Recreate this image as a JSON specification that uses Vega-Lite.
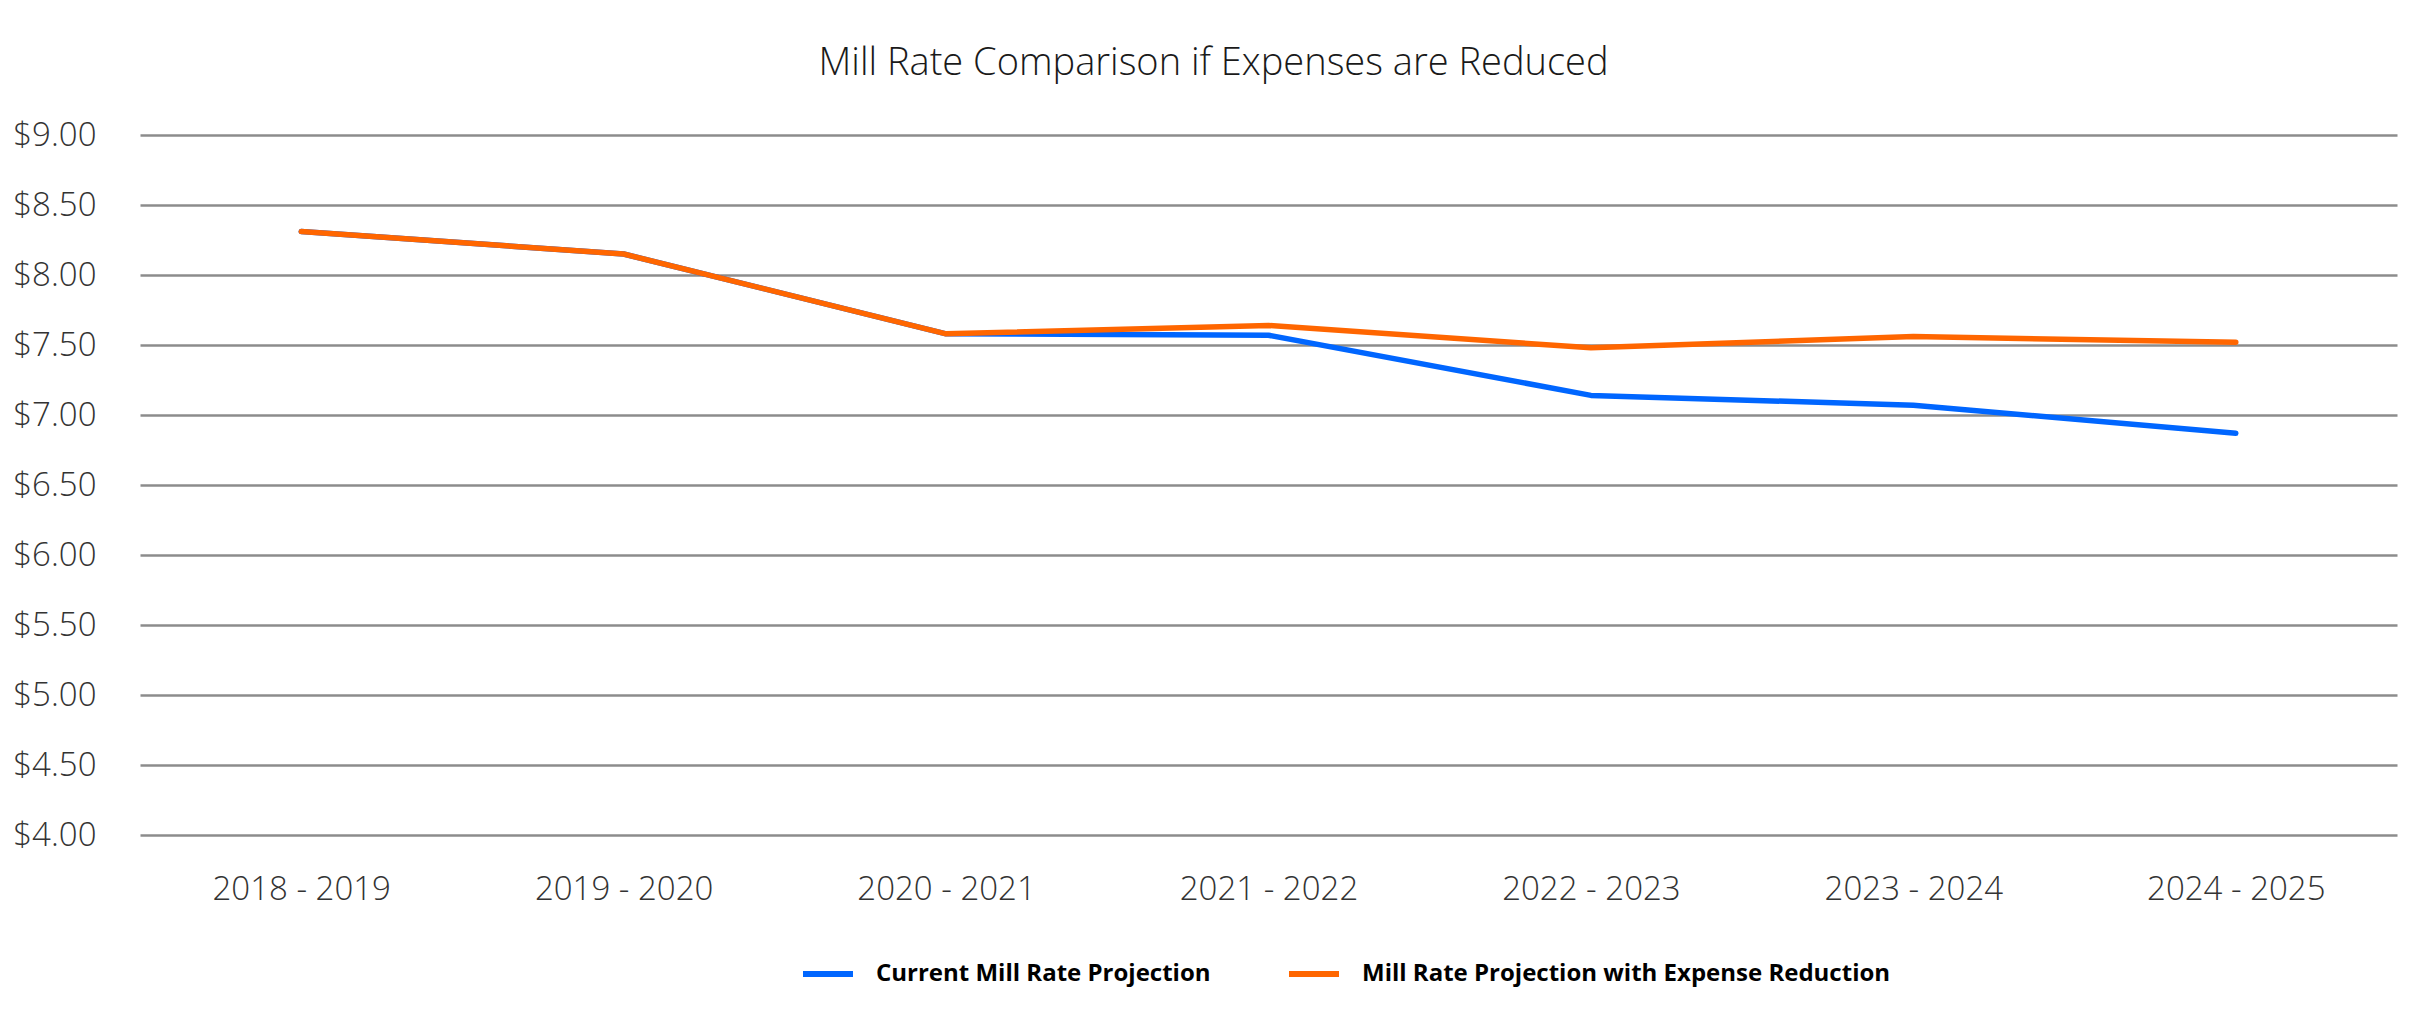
{
  "$schema": "https://vega.github.io/schema/vega-lite/v6.json",
  "width": 2257,
  "height": 700,
  "autosize": {"type": "none"},
  "padding": {"left": 140, "top": 135, "right": 36, "bottom": 189},
  "background": "white",
  "title": {
    "text": "Mill Rate Comparison if Expenses are Reduced",
    "anchor": "middle",
    "frame": "group",
    "dx": -55,
    "offset": 36,
    "font": "Open Sans",
    "fontWeight": 300,
    "fontSize": 38,
    "color": "#1a1a1a"
  },
  "data": {
    "values": [
      {"year": "2018 - 2019", "series": "Current Mill Rate Projection", "rate": 8.31},
      {"year": "2019 - 2020", "series": "Current Mill Rate Projection", "rate": 8.15},
      {"year": "2020 - 2021", "series": "Current Mill Rate Projection", "rate": 7.58},
      {"year": "2021 - 2022", "series": "Current Mill Rate Projection", "rate": 7.57},
      {"year": "2022 - 2023", "series": "Current Mill Rate Projection", "rate": 7.14},
      {"year": "2023 - 2024", "series": "Current Mill Rate Projection", "rate": 7.07},
      {"year": "2024 - 2025", "series": "Current Mill Rate Projection", "rate": 6.87},
      {"year": "2018 - 2019", "series": "Mill Rate Projection with Expense Reduction", "rate": 8.31},
      {"year": "2019 - 2020", "series": "Mill Rate Projection with Expense Reduction", "rate": 8.15},
      {"year": "2020 - 2021", "series": "Mill Rate Projection with Expense Reduction", "rate": 7.58},
      {"year": "2021 - 2022", "series": "Mill Rate Projection with Expense Reduction", "rate": 7.64},
      {"year": "2022 - 2023", "series": "Mill Rate Projection with Expense Reduction", "rate": 7.48},
      {"year": "2023 - 2024", "series": "Mill Rate Projection with Expense Reduction", "rate": 7.56},
      {"year": "2024 - 2025", "series": "Mill Rate Projection with Expense Reduction", "rate": 7.52}
    ]
  },
  "mark": {"type": "line", "strokeWidth": 5.5, "strokeCap": "round", "strokeJoin": "round"},
  "encoding": {
    "x": {
      "field": "year",
      "type": "ordinal",
      "sort": null,
      "scale": {"type": "point", "padding": 0.5},
      "axis": {
        "title": null,
        "labelAngle": 0,
        "domain": false,
        "ticks": false,
        "grid": false,
        "labelPadding": 38,
        "labelFont": "Open Sans",
        "labelFontWeight": 300,
        "labelFontSize": 33,
        "labelColor": "#333333"
      }
    },
    "y": {
      "field": "rate",
      "type": "quantitative",
      "scale": {"domain": [4, 9], "nice": false, "zero": false},
      "axis": {
        "title": null,
        "values": [4, 4.5, 5, 5.5, 6, 6.5, 7, 7.5, 8, 8.5, 9],
        "format": "$.2f",
        "domain": false,
        "ticks": false,
        "labelPadding": 44,
        "labelFont": "Open Sans",
        "labelFontWeight": 300,
        "labelFontSize": 33,
        "labelColor": "#333333",
        "gridColor": "#8c8c8c",
        "gridWidth": 2.5,
        "gridOpacity": 1
      }
    },
    "color": {
      "field": "series",
      "type": "nominal",
      "scale": {
        "domain": ["Current Mill Rate Projection", "Mill Rate Projection with Expense Reduction"],
        "range": ["#0066ff", "#ff6600"]
      },
      "legend": {
        "title": null,
        "orient": "none",
        "direction": "horizontal",
        "legendX": 660,
        "legendY": 811,
        "symbolType": "stroke",
        "symbolSize": 2500,
        "symbolStrokeWidth": 6,
        "labelOffset": 20,
        "columnPadding": 66,
        "labelFont": "Open Sans",
        "labelFontWeight": "bold",
        "labelFontSize": 24,
        "labelColor": "#000000",
        "labelLimit": 1000
      }
    }
  },
  "config": {
    "view": {"stroke": null}
  }
}
